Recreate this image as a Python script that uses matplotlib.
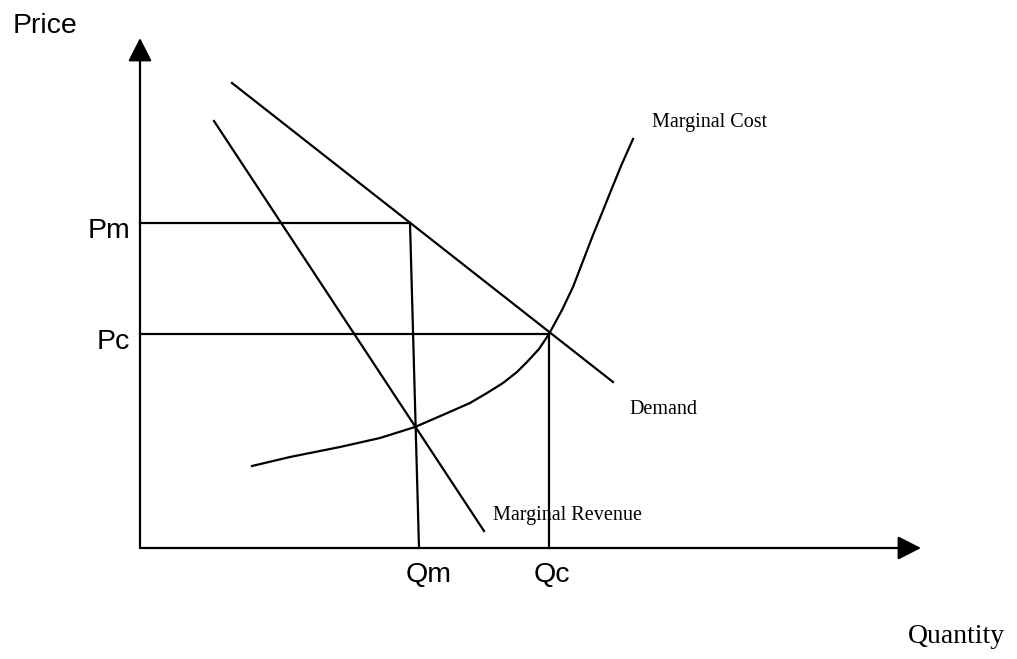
import numpy as np
import matplotlib
matplotlib.use('Agg')
import matplotlib.pyplot as plt

# quantity / price coordinates (origin at the axes corner)
demand_q = [92, 473]
demand_p = [465, 166]
mr_q = [74, 344]
mr_p = [427, 17]
mc_q = [112, 150, 200, 240, 275, 305, 330, 347, 363, 377, 387, 399, 409,
        422, 433, 443, 453, 462, 470, 481, 493]
mc_p = [82, 91, 101, 110, 121, 134, 145, 155, 165, 176, 186, 199, 214,
        238, 261, 287, 313, 335, 355, 382, 409]

pm, pc = 325, 214
qm_top, qm_bottom = 270, 279
qc = 409
q_max, p_max = 781, 510

sans = 'Liberation Sans'
serif = 'Liberation Serif'

fig = plt.figure(figsize=(10.17, 6.59), dpi=100)
ax = fig.add_axes([0, 0, 1, 1])
ax.set_xlim(-140, 877)
ax.set_ylim(-111, 548)
ax.axis('off')

lw = 1.6
# axes with arrow heads
arrow = dict(arrowstyle='-|>,head_length=0.55,head_width=0.28', mutation_scale=26,
             lw=lw, color='black', shrinkA=0, shrinkB=0)
ax.annotate('', xy=(0, p_max), xytext=(0, 0), arrowprops=arrow)
ax.annotate('', xy=(q_max, 0), xytext=(0, 0), arrowprops=arrow)

# curves
ax.plot(demand_q, demand_p, color='black', lw=lw)
ax.plot(mr_q, mr_p, color='black', lw=lw)
ax.plot(mc_q, mc_p, color='black', lw=lw, solid_joinstyle='round')

# guide lines
ax.plot([0, qm_top], [pm, pm], color='black', lw=lw)
ax.plot([qm_top, qm_bottom], [pm, 0], color='black', lw=lw)
ax.plot([0, qc], [pc, pc], color='black', lw=lw)
ax.plot([qc, qc], [pc, 0], color='black', lw=lw)

# labels
ax.text(-127, 515, 'Price', fontsize=20.5, family=sans, ha='left', va='baseline')
ax.text(-10, 310, 'Pm', fontsize=20.5, family=sans, ha='right', va='baseline')
ax.text(-10, 199, 'Pc', fontsize=20.5, family=sans, ha='right', va='baseline')
ax.text(289, -34, 'Qm', fontsize=20.5, family=sans, ha='center', va='baseline')
ax.text(412, -34, 'Qc', fontsize=20.5, family=sans, ha='center', va='baseline')
ax.text(768, -95, 'Quantity', fontsize=20, family=serif, ha='left', va='baseline')
ax.text(512, 421, 'Marginal Cost', fontsize=14.5, family=serif, ha='left', va='baseline')
ax.text(489, 134, 'Demand', fontsize=14.5, family=serif, ha='left', va='baseline')
ax.text(353, 28, 'Marginal Revenue', fontsize=14.5, family=serif, ha='left', va='baseline')

fig.savefig('out.png', dpi=100, facecolor='white')
